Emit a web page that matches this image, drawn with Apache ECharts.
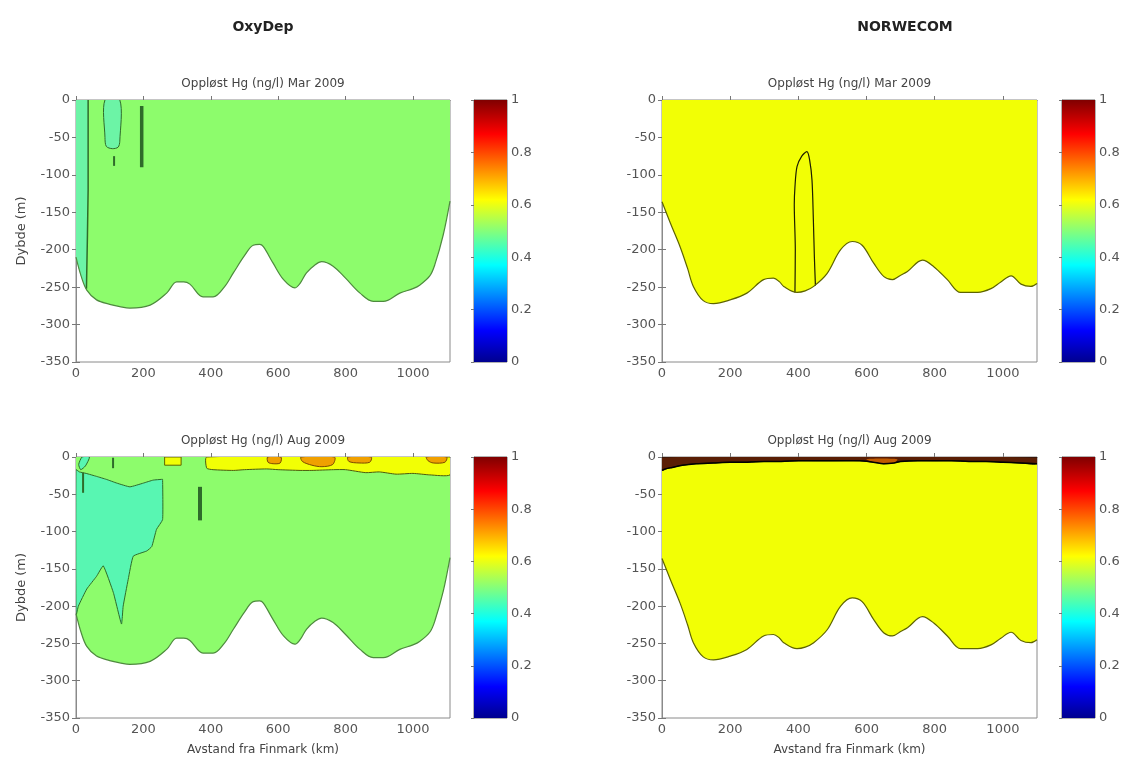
<!DOCTYPE html>
<html><head><meta charset="utf-8">
<script src="https://cdn.jsdelivr.net/npm/echarts@6/dist/echarts.min.js"></script>
<style>html,body{margin:0;padding:0;background:#fff}#c{width:1125px;height:762px}</style>
</head><body><div id="c"></div><script>
// ---------- data ----------
const xTicks = [0, 200, 400, 600, 800, 1000];
const cbTicks = [0, 0.2, 0.4, 0.6, 0.8, 1];
const headers = ['OxyDep', 'NORWECOM'];
const panelTitles = ['Oppløst Hg (ng/l) Mar 2009', 'Oppløst Hg (ng/l) Mar 2009', 'Oppløst Hg (ng/l) Aug 2009', 'Oppløst Hg (ng/l) Aug 2009'];
const yName = 'Dybde (m)';
const xName = 'Avstand fra Finmark (km)';
const jetColors = ['#00008F', '#0000FF', '#00FFFF', '#FFFF00', '#FF0000', '#800000'];
const jetPos = [0, 0.12, 0.37, 0.62, 0.87, 1];

// seabed profiles [km, depth]
const oxyBed = [[0,-210],[15,-235],[32,-254],[61,-267],[100,-273],[130,-276],[160,-278],[220,-274],[269,-258],[299,-243],[320,-243],[338,-246],[377,-263],[407,-263],[440,-250],[467,-231],[500,-208],[526,-194],[545,-193],[556,-196],[585,-218],[616,-240],[650,-251],[665,-245],[684,-231],[710,-220],[729,-216],[763,-222],[800,-238],[843,-258],[882,-269],[912,-269],[961,-258],[1000,-252],[1021,-247],[1050,-235],[1065,-220],[1090,-180],[1110,-135]];
const norBed = [[0,-136],[25,-165],[53,-196],[75,-225],[92,-249],[121,-268],[151,-272],[200,-267],[249,-258],[298,-240],[327,-238],[345,-243],[357,-249],[396,-257],[420,-255],[445,-249],[484,-232],[524,-200],[558,-189],[587,-194],[621,-218],[651,-236],[676,-240],[700,-234],[720,-229],[764,-214],[798,-223],[837,-240],[876,-257],[926,-257],[965,-252],[994,-243],[1024,-235],[1053,-246],[1082,-249],[1100,-245]];

// OxyDep Mar patches
const oxyMarStrip = [[0,0],[36,0],[36,-120],[34,-180],[31,-252],[15,-235],[0,-210]];
const oxyMarPatch = [[86,0],[130,0],[130,-55],[125,-63],[108,-65],[90,-62],[86,-50]];
const oxyMarStreak1 = [[195,-8],[195,-90]];
const oxyMarStreak2 = [[113,-75],[113,-88]];

// OxyDep Aug patches
const oxyAugCyan = [[0,-17],[10,-20],[30,-22],[61,-26],[90,-30],[121,-35],[160,-40],[200,-35],[229,-31],[254,-30],[257,-30],[257,-84],[239,-97],[225,-120],[210,-126],[170,-133],[155,-164],[140,-200],[135,-224],[111,-182],[81,-146],[61,-160],[32,-177],[7,-200],[0,-213]];
const oxyAugCyanTop = [[18,0],[40,0],[28,-12],[14,-17],[8,-10]];
const oxyAugYellow1 = [[263,0],[312,0],[312,-11],[263,-11]];
const oxyAugYellow2 = [[388,0],[1110,0],[1110,-24],[1050,-24],[1000,-22],[950,-23],[900,-20],[860,-21],[800,-17],[764,-17],[700,-18],[665,-18],[600,-17],[566,-16],[500,-17],[467,-18],[407,-17],[388,-15]];
const oxyAugOrange1 = [[569,0],[608,0],[606,-8],[585,-9],[570,-7]];
const oxyAugOrange2 = [[668,0],[767,0],[762,-10],[730,-13],[700,-11],[672,-6]];
const oxyAugOrange3 = [[807,0],[876,0],[872,-7],[840,-8],[810,-6]];
const oxyAugOrange4 = [[1040,0],[1100,0],[1095,-7],[1060,-8],[1045,-5]];
const oxyAugStreak1 = [[368,-40],[368,-85]];
const oxyAugStreak2 = [[21,-21],[21,-48]];
const oxyAugStreak3 = [[110,-1],[110,-15]];

// NORWECOM patches
const norMarContour = [[390,-257],[391,-200],[388,-140],[390,-116],[396,-89],[410,-75],[425,-69],[433,-80],[440,-107],[444,-160],[447,-210],[450,-248]];
const norAugDark = [[0,0],[1100,0],[1100,-9],[1050,-8],[1000,-7],[950,-6],[900,-6],[850,-5],[800,-5],[750,-5],[700,-6],[680,-8],[650,-9],[620,-7],[580,-5],[500,-5],[450,-5],[400,-5],[350,-6],[300,-6],[250,-7],[200,-7],[150,-8],[100,-9],[60,-11],[30,-14],[10,-16],[0,-18]];
const norAugOrange = [[600,-3],[690,-3],[680,-8],[650,-9],[620,-7]];

// ---------- layout / style ----------
const FONT = 'DejaVu Sans';
const plotGrids = [
  {left: 76, top: 100, width: 374, height: 262},
  {left: 662, top: 100, width: 375, height: 262},
  {left: 76, top: 457, width: 374, height: 261},
  {left: 662, top: 457, width: 375, height: 261}
];
const cbGrids = [
  {left: 474, top: 100, width: 33, height: 262},
  {left: 1062, top: 100, width: 33, height: 262},
  {left: 474, top: 457, width: 33, height: 261},
  {left: 1062, top: 457, width: 33, height: 261}
];
const xMax = [1110, 1100, 1110, 1100];
const GREEN = '#8DFC6C', YELLOW = '#F2FF05', CYAN = '#58F6B2', CYANM = '#6CF4A6';
const DARKG = '#2F6B2A';

const grids = [], xAxes = [], yAxes = [], series = [];
const axisGray = '#8a8a8a';
const plain = v => String(v);

function plotAxes(i) {
  const g = xAxes.length;
  const base = {gridIndex: i, type: 'value', min: 0, max: xMax[i], splitLine: {show: false},
    axisLine: {show: true, lineStyle: {color: axisGray}},
    axisTick: {inside: true, length: 4, customValues: xTicks, lineStyle: {color: '#777'}}};
  xAxes.push(Object.assign({}, base, {position: 'bottom',
    axisLabel: {customValues: xTicks, formatter: plain, fontSize: 13, color: '#555', margin: 5, fontFamily: FONT},
    name: i >= 2 ? xName : '', nameLocation: 'middle', nameGap: 26,
    nameTextStyle: {fontSize: 12, color: '#444', fontFamily: FONT}}));
  xAxes.push(Object.assign({}, base, {position: 'top', axisLabel: {show: false}}));
  const yb = {gridIndex: i, type: 'value', min: -350, max: 0, interval: 50, splitLine: {show: false},
    axisLine: {show: true, lineStyle: {color: axisGray}},
    axisTick: {inside: true, length: 4, lineStyle: {color: '#777'}}};
  yAxes.push(Object.assign({}, yb, {position: 'left',
    axisLabel: {formatter: plain, fontSize: 13, color: '#555', margin: 6, fontFamily: FONT},
    name: (i % 2 === 0) ? yName : '', nameLocation: 'middle', nameGap: 48,
    nameTextStyle: {fontSize: 13, color: '#444', fontFamily: FONT}}));
  yAxes.push(Object.assign({}, yb, {position: 'right', axisLabel: {show: false}}));
  return {xi: g, yi: g};
}

function poly(ax, pts, fill, stroke, z, smooth) {
  series.push({type: 'custom', xAxisIndex: ax.xi, yAxisIndex: ax.yi, data: pts, z: z, silent: true, clip: true,
    renderItem: function (params, api) {
      if (params.dataIndex !== 0) return null;
      const points = pts.map(p => api.coord(p));
      return {type: 'polygon', shape: {points: points, smooth: smooth || 0},
        style: {fill: fill, stroke: stroke || null, lineWidth: 1}};
    }});
}
function line(ax, pts, color, width, z, smooth) {
  series.push({type: 'line', xAxisIndex: ax.xi, yAxisIndex: ax.yi, data: pts, symbol: 'none', silent: true,
    smooth: smooth || false, z: z, lineStyle: {color: color, width: width}});
}
function bed(ax, pts, fill, stroke) {
  series.push({type: 'line', xAxisIndex: ax.xi, yAxisIndex: ax.yi, data: pts, symbol: 'none', silent: true,
    smooth: 0.35, z: 1, lineStyle: {width: 0}, areaStyle: {color: fill, opacity: 1, origin: 'end'}});
  line(ax, pts, stroke, 1.2, 5, 0.35);
}

const jetStops = jetColors.map((c, k) => ({offset: jetPos[k], color: c}));
function colorbar(j) {
  grids.push(Object.assign({show: true, borderColor: '#666', borderWidth: 1, backgroundColor: 'transparent'}, cbGrids[j]));
  const gi = grids.length - 1;
  const xi = xAxes.length;
  xAxes.push({gridIndex: gi, type: 'value', min: 0, max: 1, show: false});
  const yi = yAxes.length;
  yAxes.push({gridIndex: gi, type: 'value', min: 0, max: 1, interval: 0.2, position: 'right',
    splitLine: {show: false}, axisLine: {show: true, lineStyle: {color: axisGray}},
    axisTick: {inside: true, length: 3, lineStyle: {color: '#777'}},
    axisLabel: {fontSize: 13, color: '#555', margin: 4, fontFamily: FONT,
      formatter: v => cbTicks.indexOf(Math.round(v * 10) / 10) >= 0 ? String(Math.round(v * 10) / 10) : ''}});
  series.push({type: 'custom', xAxisIndex: xi, yAxisIndex: yi, data: [[0, 0]], silent: true, z: 1,
    renderItem: function (params, api) {
      const p0 = api.coord([0, 0]), p1 = api.coord([1, 1]);
      return {type: 'rect', shape: {x: p0[0], y: p1[1], width: p1[0] - p0[0], height: p0[1] - p1[1]},
        style: {fill: new echarts.graphic.LinearGradient(0, 1, 0, 0, jetStops)}};
    }});
}

// plot grids first
plotGrids.forEach(g => grids.push(Object.assign({show: true, borderColor: axisGray, borderWidth: 1, backgroundColor: '#fff'}, g)));
const A = [0, 1, 2, 3].map(plotAxes);

// Panel 0: OxyDep Mar
bed(A[0], oxyBed, GREEN, '#4E8A3E');
poly(A[0], oxyMarStrip, CYANM, null, 2, 0.1);
line(A[0], [[36,0],[36,-120],[34,-180],[31,-252]], DARKG, 1.5, 3);
poly(A[0], oxyMarPatch, CYANM, DARKG, 3, 0.3);
line(A[0], oxyMarStreak1, DARKG, 3.5, 3);
line(A[0], oxyMarStreak2, DARKG, 2, 3);

// Panel 1: NORWECOM Mar
bed(A[1], norBed, YELLOW, '#5E6400');
line(A[1], norMarContour, '#1d1d00', 1.2, 4, 0.3);

// Panel 2: OxyDep Aug
bed(A[2], oxyBed, GREEN, '#4E8A3E');
poly(A[2], oxyAugCyan, CYAN, DARKG, 2, 0.12);
poly(A[2], oxyAugCyanTop, CYAN, DARKG, 2, 0.2);
poly(A[2], oxyAugYellow1, YELLOW, '#5E6400', 2, 0);
poly(A[2], oxyAugYellow2, YELLOW, '#4b5a10', 2, 0.2);
[oxyAugOrange1, oxyAugOrange2, oxyAugOrange3, oxyAugOrange4].forEach(p => poly(A[2], p, '#F0A000', '#7a4a00', 3, 0.3));
line(A[2], oxyAugStreak1, DARKG, 4, 3);
line(A[2], oxyAugStreak2, DARKG, 2, 3);
line(A[2], oxyAugStreak3, DARKG, 2, 3);

// Panel 3: NORWECOM Aug
bed(A[3], norBed, YELLOW, '#5E6400');
poly(A[3], norAugDark, '#5a1e05', '#111', 3, 0.3);
poly(A[3], norAugOrange, '#C05A00', null, 4, 0.3);
line(A[3], norAugDark.slice(2), '#000', 1.5, 4, 0.3);

[0, 1, 2, 3].forEach(colorbar);

const graphics = [
  {type: 'text', x: 263, y: 27, style: {text: headers[0], align: 'center', verticalAlign: 'middle', fontSize: 14, fontWeight: 'bold', fontFamily: FONT, fill: '#222'}},
  {type: 'text', x: 905, y: 27, style: {text: headers[1], align: 'center', verticalAlign: 'middle', fontSize: 14, fontWeight: 'bold', fontFamily: FONT, fill: '#222'}}
];
plotGrids.forEach((g, i) => graphics.push({type: 'text', x: g.left + g.width / 2, y: g.top - 16,
  style: {text: panelTitles[i], align: 'center', verticalAlign: 'middle', fontSize: 12, fontFamily: FONT, fill: '#444'}}));

const chart = echarts.init(document.getElementById('c'), null, {renderer: 'canvas'});
chart.setOption({animation: false, backgroundColor: '#fff', grid: grids, xAxis: xAxes, yAxis: yAxes, series: series, graphic: graphics});
</script></body></html>
